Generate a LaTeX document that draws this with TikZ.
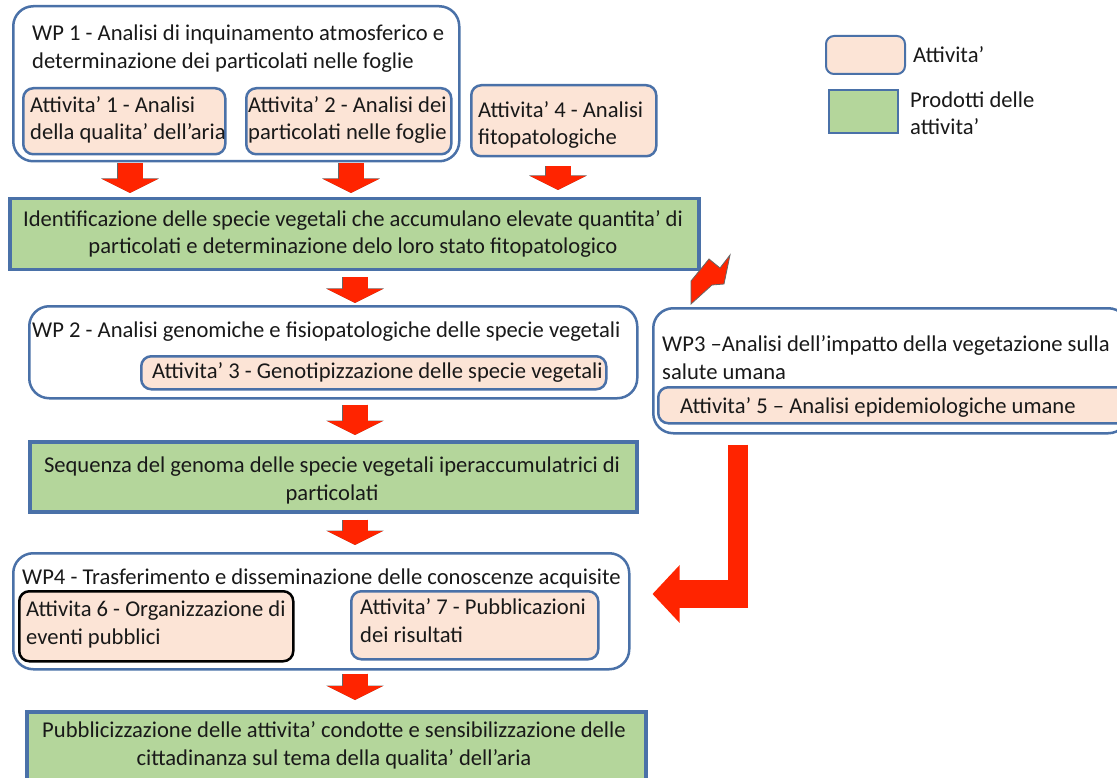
\documentclass[tikz,border=0pt]{standalone}
\usepackage{fontspec}
\setmainfont{Carlito}
\usetikzlibrary{arrows.meta, positioning}
\definecolor{wpblue}{RGB}{74,113,168}
\definecolor{attpeach}{RGB}{252,228,214}
\definecolor{prodgreen}{RGB}{180,214,155}
\definecolor{arrred}{RGB}{255,36,0}

\begin{document}
\begin{tikzpicture}[
        x=1pt, y=-1pt,
        font=\fontsize{22.6}{27.5}\selectfont,
        wpbox/.style={draw=wpblue, line width=2.5pt, rounded corners=20pt, fill=white, anchor=north west, inner sep=0pt},
        attbox/.style={draw=wpblue, line width=2.5pt, rounded corners=10pt, fill=attpeach, anchor=north west, inner sep=0pt},
        prodbox/.style={draw=wpblue, line width=3.5pt, fill=prodgreen, anchor=north west, inner sep=0pt},
        lbl/.style={anchor=base west, inner sep=0pt, align=left, text=black!90},
        clbl/.style={anchor=base, inner sep=0pt, align=center, text=black!90},
        downarr/.style={arrred, line width=25pt, -{Triangle[width=55pt,length=14pt]},
            preaction={draw=black!60, line width=26pt, -{Triangle[width=57pt,length=14.5pt]}}},
        lshaft/.style={arrred, line width=20pt}
    ]
        \useasboundingbox (0,0) rectangle (1117,778);

        % WP 1
        \node[wpbox, minimum width=446pt, minimum height=155pt] (wp1) at (12,5) {};
        \node[lbl] (wp1t) at (32,68.5) {WP 1 - Analisi di inquinamento atmosferico e\\determinazione dei particolati nelle foglie};
        \node[attbox, minimum width=202pt, minimum height=66pt] (att1) at (22,87) {};
        \node[lbl] (att1t) at (30,140) {Attivita’ 1 - Analisi\\della qualita’ dell’aria};
        \node[attbox, minimum width=205pt, minimum height=66pt] (att2) at (245,87) {};
        \node[lbl] (att2t) at (248,140) {Attivita’ 2 - Analisi dei\\particolati nelle foglie};
        \node[attbox, minimum width=185pt, minimum height=71pt] (att4) at (470,84) {};
        \node[lbl] (att4t) at (478,145) {Attivita’ 4 - Analisi\\fitopatologiche};

        % Legend
        \node[attbox, rounded corners=8pt, line width=2pt, minimum width=79pt, minimum height=38pt] (legact) at (825,35) {};
        \node[lbl] (legactt) at (913,63) {Attivita’};
        \node[prodbox, line width=2pt, minimum width=69pt, minimum height=43pt] (legprod) at (828,89) {};
        \node[lbl] (legprodt) at (910,135) {Prodotti delle\\attivita’};

        % Prodotto 1
        \node[prodbox, minimum width=689pt, minimum height=71pt] (prod1) at (8,197) {};
        \node[clbl] (prod1t) at (353,254) {Identificazione delle specie vegetali che accumulano elevate quantita’ di\\particolati e determinazione delo loro stato fitopatologico};

        % WP 2
        \node[wpbox, minimum width=608pt, minimum height=92pt] (wp2) at (28,305) {};
        \node[lbl] (wp2t) at (32,337) {WP 2 - Analisi genomiche e fisiopatologiche delle specie vegetali};
        \node[attbox, minimum width=465pt, minimum height=33pt] (att3) at (140,355) {};
        \node[lbl] (att3t) at (152,378) {Attivita’ 3 - Genotipizzazione delle specie vegetali};

        % WP 3
        \node[wpbox, minimum width=475pt, minimum height=125pt] (wp3) at (652,307) {};
        \node[lbl] (wp3t) at (662,379) {WP3 –Analisi dell’impatto della vegetazione sulla\\salute umana};
        \node[attbox, minimum width=470pt, minimum height=36pt] (att5) at (657,386) {};
        \node[lbl] (att5t) at (680,413) {Attivita’ 5 – Analisi epidemiologiche umane};

        % Prodotto 2
        \node[prodbox, minimum width=607pt, minimum height=70pt] (prod2) at (28,440) {};
        \node[clbl] (prod2t) at (332,500) {Sequenza del genoma delle specie vegetali iperaccumulatrici di\\particolati};

        % WP 4
        \node[wpbox, minimum width=616pt, minimum height=116pt] (wp4) at (12,552) {};
        \node[lbl] (wp4t) at (22,584) {WP4 - Trasferimento e disseminazione delle conoscenze acquisite};
        \node[attbox, draw=black, minimum width=274pt, minimum height=70pt] (att6) at (18,590) {};
        \node[lbl] (att6t) at (26,644) {Attivita 6 - Organizzazione di\\eventi pubblici};
        \node[attbox, minimum width=247pt, minimum height=68pt] (att7) at (350,590) {};
        \node[lbl] (att7t) at (360,642) {Attivita’ 7 - Pubblicazioni\\dei risultati};

        % Prodotto 3
        \node[prodbox, minimum width=619pt, minimum height=80pt] (prod3) at (25,710) {};
        \node[clbl] (prod3t) at (334,765) {Pubblicizzazione delle attivita’ condotte e sensibilizzazione delle\\cittadinanza sul tema della qualita’ dell’aria};

        % Arrows down
        \coordinate (c1) at (130,0);
        \coordinate (c2) at (351,0);
        \coordinate (c4) at (558,0);
        \coordinate (cm) at (355,0);
        \draw[downarr, shorten <=8pt, shorten >=4pt] (c1 |- att1.south) -- (c1 |- prod1.north);
        \draw[downarr, shorten <=8pt, shorten >=4pt] (c2 |- att2.south) -- (c2 |- prod1.north);
        \draw[downarr, shorten <=9pt, shorten >=7pt] (c4 |- att4.south) -- (c4 |- prod1.north);
        \draw[downarr, shorten <=6pt, shorten >=2pt] (cm |- prod1.south) -- (cm |- wp2.north);
        \draw[downarr, shorten <=5pt, shorten >=5pt] (cm |- wp2.south) -- (cm |- prod2.north);
        \draw[downarr, shorten <=6pt, shorten >=7pt] (cm |- prod2.south) -- (cm |- wp4.north);
        \draw[downarr, shorten <=3pt, shorten >=10pt] (cm |- wp4.south) -- (cm |- prod3.north);

        % Arrow to WP3
        \coordinate (boltend) at (691,304);
        \filldraw[fill=arrred, draw=black!60, line width=0.8pt] (boltend) -- ++(0,-23) -- ++(18,-22) -- ++(11,9)
            -- ++(10,-13) -- ++(-6,29) -- ++(-12,1) -- cycle;

        % Arrow WP3 to WP4
        \coordinate (lbend) at (738,594);
        \draw[lshaft, shorten <=10pt, shorten >=-14pt] (lbend |- wp3.south) -- (lbend);
        \draw[lshaft, line width=28pt, shorten <=-10pt, shorten >=22pt, -{Triangle[width=56pt,length=27pt]}] (lbend) -- (lbend -| wp4.east);
    \end{tikzpicture}
\end{document}
